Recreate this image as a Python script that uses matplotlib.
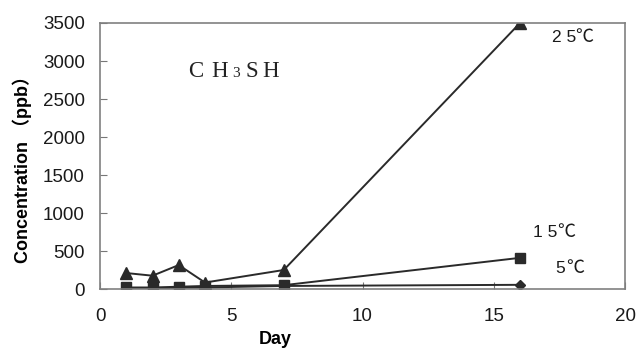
import matplotlib
matplotlib.use("Agg")
import matplotlib.pyplot as plt

days = [1, 2, 3, 4, 7, 16]
t25 = [210, 175, 315, 85, 250, 3500]
t15 = [20, 20, 30, 40, 50, 410]
t5 = [10, 10, 15, 20, 40, 55]
xticks = [0, 5, 10, 15, 20]
yticks = [0, 500, 1000, 1500, 2000, 2500, 3000, 3500]
series_labels = ['2 5', '1 5', '5']

plt.rcParams['font.family'] = ['Liberation Sans', 'Noto Sans CJK JP', 'DejaVu Sans']

W, H = 636, 351
fig = plt.figure(figsize=(W / 100, H / 100), dpi=100)
ax = fig.add_axes([100 / W, 1 - 289 / H, 525 / W, 266 / H])
c = '#2a2a2a'
ax.plot(days, t25, color=c, lw=1.4, marker='^', ms=8)
ax.plot(days, t15, color=c, lw=1.4, marker='s', ms=7)
ax.plot(days, t5, color=c, lw=1.4, marker='D', ms=5)

ax.set_xlim(0, 20)
ax.set_ylim(0, 3500)
ax.set_xticks(xticks)
ax.set_yticks(yticks)
ax.tick_params(direction='in', length=5, labelsize=13.5, colors='#1a1a1a')
ax.tick_params(axis='y', pad=11, color='#777777')
ax.tick_params(axis='x', pad=14, color='#777777')
for s in ax.spines.values():
    s.set_color('#808080')
    s.set_linewidth(1.2)
ax.set_xlabel('Day', fontsize=13, fontweight='bold', va='center')
ax.xaxis.set_label_coords(0.334, -0.188)
ax.set_ylabel('Concentration （ppb）', fontsize=13, fontweight='bold', va='center')
ax.yaxis.set_label_coords(-0.148, 0.466)

# compound name, letters placed individually (pixel coordinates)
def px(x, y_top):
    return (x / W, 1 - y_top / H)

serif = 'Liberation Serif'
for ch, x, size in [('C', 188, 16.5), ('H', 211, 16.5), ('3', 232, 11), ('S', 245, 16.5), ('H', 262, 16.5)]:
    fig.text(*px(x, 77), ch, fontsize=size, family=serif, ha='left', va='baseline', color='#222222')

# temperature labels (digits + degree sign), positioned in data coords
sans = 'Liberation Sans'
cjk = 'Noto Sans CJK JP'
lab = [(17.22, 3250, 18.10), (16.50, 684, 17.41), (17.33, 210, 17.75)]
for txt, (xd, yb, xc) in zip(series_labels, lab):
    ax.text(xd, yb, txt, fontsize=12.5, family=sans, ha='left', va='baseline', color='#1a1a1a')
    ax.text(xc, yb, '℃', fontsize=13, family=cjk, ha='left', va='baseline', color='#1a1a1a')

fig.savefig('out.png', dpi=100)
